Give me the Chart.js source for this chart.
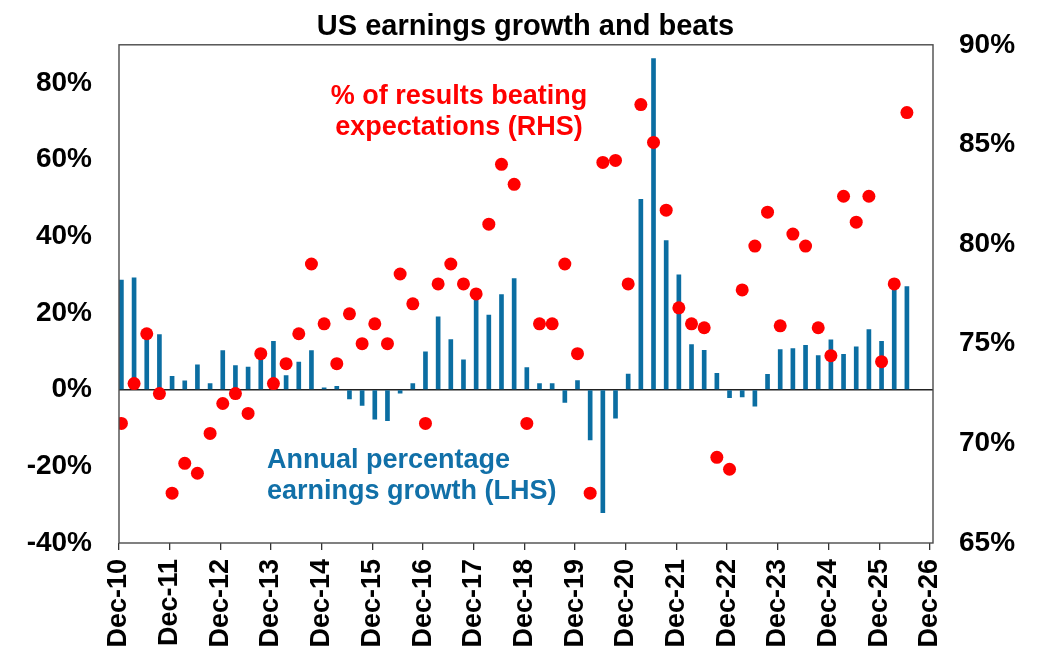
<!DOCTYPE html>
<html>
<head>
<meta charset="utf-8">
<script src="https://cdn.jsdelivr.net/npm/chart.js@4"></script>
<style>
  html, body { margin: 0; padding: 0; background: #fff; }
  canvas { display: block; }
</style>
</head>
<body>
<canvas id="chart" width="1051" height="662"></canvas>
<script>
// ====== DATA (quarterly, first point Dec-10) ======
// Annual percentage earnings growth (LHS, %)
const earningsGrowth = [
  28.6, 29.2, 14.5, 14.4, 3.5, 2.3, 6.5, 1.6, 10.2, 6.3, 5.9, 8.5,
  12.6, 3.7, 7.2, 10.2, 0.5, 0.9, -2.4, -4.1, -7.7, -8.1, -0.9, 1.6,
  9.9, 19.0, 13.1, 7.8, 24.0, 19.5, 24.8, 29.0, 5.8, 1.6, 1.6, -3.3,
  2.4, -13.1, -32.1, -7.4, 4.1, 49.7, 86.4, 38.9, 30.0, 11.8, 10.3, 4.3,
  -2.1, -1.9, -4.3, 4.0, 10.5, 10.7, 11.6, 8.9, 13.0, 9.2, 11.2, 15.7,
  12.6, 26.6, 26.9
];
// % of results beating expectations (RHS, %)
const beatPct = [
  71.0, 73.0, 75.5, 72.5, 67.5, 69.0, 68.5, 70.5, 72.0, 72.5, 71.5, 74.5,
  73.0, 74.0, 75.5, 79.0, 76.0, 74.0, 76.5, 75.0, 76.0, 75.0, 78.5, 77.0,
  71.0, 78.0, 79.0, 78.0, 77.5, 81.0, 84.0, 83.0, 71.0, 76.0, 76.0, 79.0,
  74.5, 67.5, 84.1, 84.2, 78.0, 87.0, 85.1, 81.7, 76.8, 76.0, 75.8, 69.3,
  68.7, 77.7, 79.9, 81.6, 75.9, 80.5, 79.9, 75.8, 74.4, 82.4, 81.1, 82.4,
  74.1, 78.0, 86.6
];
// x-axis tick labels, one per year (every 4 quarters)
const xTickLabels = [
  "Dec-10", "Dec-11", "Dec-12", "Dec-13", "Dec-14", "Dec-15", "Dec-16", "Dec-17",
  "Dec-18", "Dec-19", "Dec-20", "Dec-21", "Dec-22", "Dec-23", "Dec-24", "Dec-25", "Dec-26"
];
const leftTicks = [-40, -20, 0, 20, 40, 60, 80];
const rightTicks = [65, 70, 75, 80, 85, 90];
// ==================================================

const QTR_OFFSET = 0.19; // quarter-end dates sit a little after the Dec tick
const BLUE = "#0b6ea2";
const RED = "#ff0000";
const FONT = "'Liberation Sans', Arial, sans-serif";

const growthPts = earningsGrowth.map((v, i) => ({ x: i + QTR_OFFSET, y: v }));
const beatPts = beatPct.map((v, i) => ({ x: i + QTR_OFFSET, y: v }));

// box round the plot area + text annotations
const framePlugin = {
  id: "frame",
  afterDraw(chart) {
    const { ctx, chartArea: a } = chart;
    ctx.save();
    ctx.strokeStyle = "#4a4a4a";
    ctx.lineWidth = 1.4;
    ctx.strokeRect(a.left, a.top, a.right - a.left, a.bottom - a.top);

    ctx.font = "bold 27px " + FONT;
    ctx.textBaseline = "alphabetic";
    ctx.fillStyle = RED;
    ctx.textAlign = "center";
    ctx.fillText("% of results beating", 459, 104);
    ctx.fillText("expectations (RHS)", 459, 135);
    ctx.fillStyle = "#1170a8";
    ctx.textAlign = "left";
    ctx.fillText("Annual percentage", 267, 468);
    ctx.fillText("earnings growth (LHS)", 267, 499);
    ctx.restore();
  },
};

new Chart(document.getElementById("chart").getContext("2d"), {
  data: {
    datasets: [
      {
        type: "scatter",
        label: "% of results beating expectations (RHS)",
        data: beatPts,
        yAxisID: "y1",
        backgroundColor: RED,
        borderWidth: 0,
        pointRadius: 6.5,
        order: 0,
      },
      {
        type: "bar",
        label: "Annual percentage earnings growth (LHS)",
        data: growthPts,
        yAxisID: "y",
        backgroundColor: BLUE,
        barThickness: 4,
        order: 1,
      },
    ],
  },
  options: {
    responsive: false,
    animation: false,
    layout: { padding: 0 },
    plugins: {
      legend: { display: false },
      tooltip: { enabled: false },
      title: {
        display: true,
        text: "US earnings growth and beats",
        color: "#000",
        font: { family: FONT, size: 29, weight: "bold" },
        padding: { top: 10, bottom: 0 },
      },
    },
    scales: {
      x: {
        type: "linear",
        min: 0,
        max: 64.25,
        offset: false,
        afterBuildTicks: (s) => {
          s.ticks = xTickLabels.map((_, i) => ({ value: i * 4 }));
        },
        afterFit: (s) => { s.height = 119; },
        ticks: {
          autoSkip: false,
          minRotation: 90,
          maxRotation: 90,
          padding: 9,
          color: "#000",
          font: { family: FONT, size: 27, weight: "bold" },
          callback: (v) => xTickLabels[Math.round(v / 4)],
        },
        grid: {
          offset: false,
          drawOnChartArea: false,
          drawTicks: true,
          tickLength: 7,
          color: "#333",
          lineWidth: 1.3,
        },
        border: { display: false },
      },
      y: {
        position: "left",
        min: -40,
        max: 90,
        afterBuildTicks: (s) => {
          s.ticks = leftTicks.map((v) => ({ value: v }));
        },
        afterFit: (s) => { s.width = 119; },
        ticks: {
          padding: 27,
          color: "#000",
          font: { family: FONT, size: 28, weight: "bold" },
          callback: (v) => v + "%",
        },
        grid: {
          drawTicks: false,
          color: (c) => (c.tick && c.tick.value === 0 ? "#222" : "rgba(0,0,0,0)"),
          lineWidth: 1.5,
        },
        border: { display: false },
      },
      y1: {
        position: "right",
        min: 65,
        max: 90,
        afterBuildTicks: (s) => {
          s.ticks = rightTicks.map((v) => ({ value: v }));
        },
        afterFit: (s) => { s.width = 118; },
        ticks: {
          padding: 26,
          color: "#000",
          font: { family: FONT, size: 28, weight: "bold" },
          callback: (v) => v + "%",
        },
        grid: { display: false, drawTicks: false },
        border: { display: false },
      },
    },
  },
  plugins: [framePlugin],
});
</script>
</body>
</html>
